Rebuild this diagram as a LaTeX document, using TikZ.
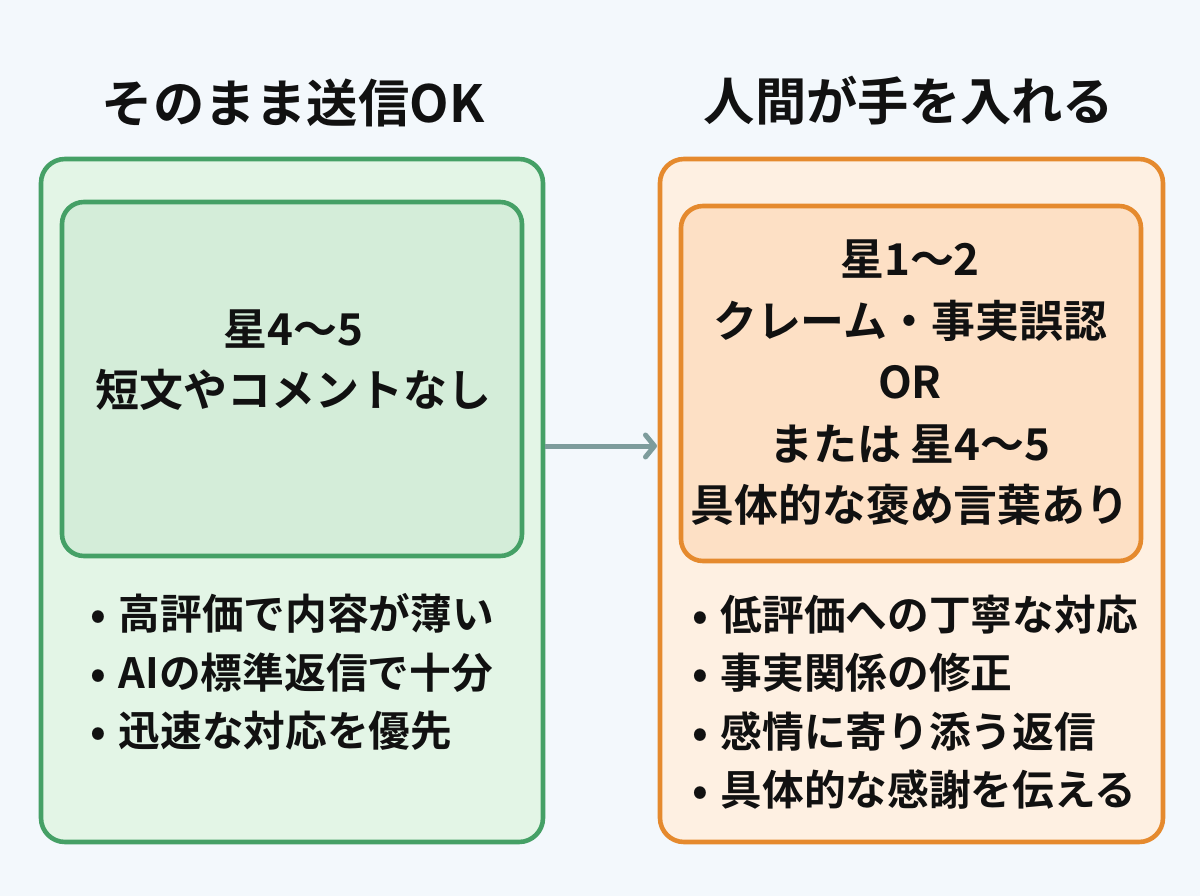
\documentclass[tikz,border=0pt]{standalone}
\usepackage{fontspec}
\setmainfont{Noto Sans CJK JP}[BoldFont={* Bold}]
\usetikzlibrary{arrows.meta,positioning}
\definecolor{bgc}{HTML}{F3F8FC}
\definecolor{greenl}{HTML}{45A066}
\definecolor{greeno}{HTML}{E3F5E6}
\definecolor{greeni}{HTML}{D4EDD9}
\definecolor{orl}{HTML}{E58A2E}
\definecolor{oro}{HTML}{FEF0E2}
\definecolor{ori}{HTML}{FDE0C5}
\definecolor{arr}{HTML}{7D9C9C}
\definecolor{ink}{HTML}{111111}
\newcommand{\bulletmark}{\kern-3pt•\kern3pt\ }
\tikzset{
 x=1pt,y=-1pt,
 panel/.style={rounded corners=24, line width=4.6},
 innerpanel/.style={rounded corners=22, line width=4.6},
 title/.style={font=\fontsize{51.3}{51.3}\selectfont\bfseries, text=ink, anchor=center},
 body/.style={font=\fontsize{43.9}{61.5}\selectfont\bfseries, text=ink, align=center},
 bul/.style={font=\fontsize{41.7}{58.5}\selectfont\bfseries, text=ink, align=left, anchor=west},
}
\begin{document}
\begin{tikzpicture}
\useasboundingbox (0,0) rectangle (1200,896);
\fill[bgc] (0,0) rectangle (1200,896);
\node[title] (tl) at (293,103) {そのまま送信OK};
\node[title] (tr) at (909,101) {人間が手を入れる};
\draw[panel,draw=greenl,fill=greeno] (41,159) rectangle (543,842);
\coordinate (la) at (545,446);
\draw[innerpanel,draw=greenl,fill=greeni] (62,202) rectangle (522,556);
\node[body] (lb) at (293.5,360) {星4〜5\\短文やコメントなし};
\node[bul] (ll) at (90,672) {\bulletmark 高評価で内容が薄い\\\bulletmark AIの標準返信で十分\\\bulletmark 迅速な対応を優先};
\draw[panel,draw=orl,fill=oro] (660,159) rectangle (1163,842);
\coordinate (ra) at (657,446);
\draw[innerpanel,draw=orl,fill=ori] (681,206) rectangle (1141,561);
\node[body] (rb) at (910,383) {星1〜2\\クレーム・事実誤認\\OR\\または 星4〜5\\具体的な褒め言葉あり};
\node[bul] (rl) at (692,702) {\bulletmark 低評価への丁寧な対応\\\bulletmark 事実関係の修正\\\bulletmark 感情に寄り添う返信\\\bulletmark 具体的な感謝を伝える};
\draw[arr,line width=5,-{Straight Barb[length=9,width=22,round]}] (la) -- (ra);
\end{tikzpicture}
\end{document}
